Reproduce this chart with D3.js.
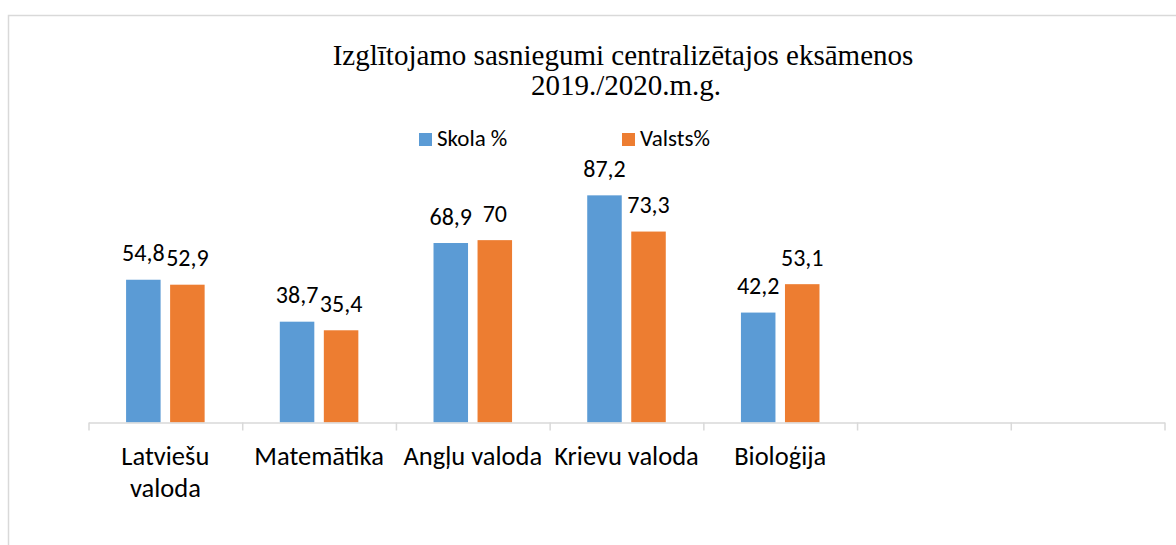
<!DOCTYPE html>
<html>

<head>
  <meta charset="utf-8">
  <title>Izglītojamo sasniegumi</title>
  <style type="text/css">
    html,
    body {
      margin: 0;
      padding: 0;
      background: #fff;
    }

    svg text {
      font-family: Carlito, Calibri, Lato, sans-serif;
      fill: #000;
    }

    .title {
      font-family: "Liberation Serif", "Times New Roman", serif !important;
    }
  </style>
  <script src="https://cdn.jsdelivr.net/npm/d3@7"></script>
</head>

<body>
  <div id="chart"></div>

  <script>

    // data
    var categories = ["Latviešu valoda", "Matemātika", "Angļu valoda", "Krievu valoda", "Bioloģija"];
    var seriesNames = ["Skola %", "Valsts%"];
    var skola = [54.8, 38.7, 68.9, 87.2, 42.2];
    var valsts = [52.9, 35.4, 70, 73.3, 53.1];
    var colors = ["#5B9BD5", "#ED7D31"];
    var slotCount = 7; // two empty slots at the right

    var W = 1176, H = 545;
    var svg = d3.select("#chart").append("svg")
      .attr("width", W)
      .attr("height", H);

    // chart border
    svg.append("rect")
      .attr("x", 8.5)
      .attr("y", 15.5)
      .attr("width", W)
      .attr("height", H)
      .attr("fill", "none")
      .attr("stroke", "#d9d9d9")
      .attr("stroke-width", 1.5);

    //title
    var title = svg.append("text")
      .attr("class", "title")
      .attr("text-anchor", "middle")
      .attr("font-size", 29);
    title.append("tspan").attr("x", 623).attr("y", 65).text("Izglītojamo sasniegumi centralizētajos eksāmenos");
    title.append("tspan").attr("x", 626).attr("y", 95).text("2019./2020.m.g.");

    //scales
    var baseY = 422.5;
    var x = d3.scaleLinear().domain([0, slotCount]).range([88.5, 1164.5]);
    var y = d3.scaleLinear().domain([0, 100]).range([baseY, 162]);
    var step = x(1) - x(0);
    var inner = d3.scaleBand()
      .domain(seriesNames)
      .range([-step * 0.2555, step * 0.2555])
      .paddingInner(0.216);

    //legend
    var legendX = [419, 622];
    var legend = svg.selectAll(".legend")
      .data(seriesNames)
      .join("g")
      .attr("class", "legend")
      .attr("transform", (d, i) => "translate(" + legendX[i] + ",133)");
    legend.append("rect")
      .attr("width", 13)
      .attr("height", 13)
      .attr("fill", (d, i) => colors[i]);
    legend.append("text")
      .attr("x", 18)
      .attr("y", 12.5)
      .attr("font-size", 23)
      .text(d => d);

    //bars
    var series = [skola, valsts];
    var groups = svg.selectAll(".series")
      .data(series)
      .join("g")
      .attr("class", "series");

    groups.selectAll("rect")
      .data((vals, si) => vals.map((v, ci) => ({ v: v, ci: ci, si: si })))
      .join("rect")
      .attr("x", d => x(d.ci + 0.5) + inner(seriesNames[d.si]))
      .attr("y", d => y(d.v))
      .attr("width", inner.bandwidth())
      .attr("height", d => baseY - y(d.v))
      .attr("fill", d => colors[d.si]);

    groups.selectAll("text")
      .data((vals, si) => vals.map((v, ci) => ({ v: v, ci: ci, si: si })))
      .join("text")
      .attr("x", d => x(d.ci + 0.5) + inner(seriesNames[d.si]) + inner.bandwidth() / 2)
      .attr("y", d => y(d.v) - 18.5)
      .attr("text-anchor", "middle")
      .attr("font-size", 24)
      .text(d => String(d.v).replace(".", ","));

    //axis
    var axis = d3.axisBottom(x)
      .tickValues(d3.range(slotCount + 1))
      .tickFormat("")
      .tickSize(8)
      .tickSizeOuter(0);
    var ax = svg.append("g")
      .attr("transform", "translate(0," + baseY + ")")
      .call(axis);
    ax.selectAll("path, line")
      .attr("stroke", "#d9d9d9")
      .attr("stroke-width", 1.5);

    //category labels, wrapped to the slot width
    var catText = svg.selectAll(".cat")
      .data(categories)
      .join("text")
      .attr("class", "cat")
      .attr("text-anchor", "middle")
      .attr("font-size", 26.5)
      .attr("y", 465);

    catText.each(function (d, i) {
      var t = d3.select(this);
      var cx = x(i + 0.5);
      t.append("tspan").attr("x", cx).text(d);
      if (this.getComputedTextLength() > step + 2) {
        t.text(null);
        d.split(" ").forEach(function (w, k) {
          t.append("tspan").attr("x", cx).attr("dy", k === 0 ? 0 : 32).text(w);
        });
      }
    });

  </script>

</body>

</html>
